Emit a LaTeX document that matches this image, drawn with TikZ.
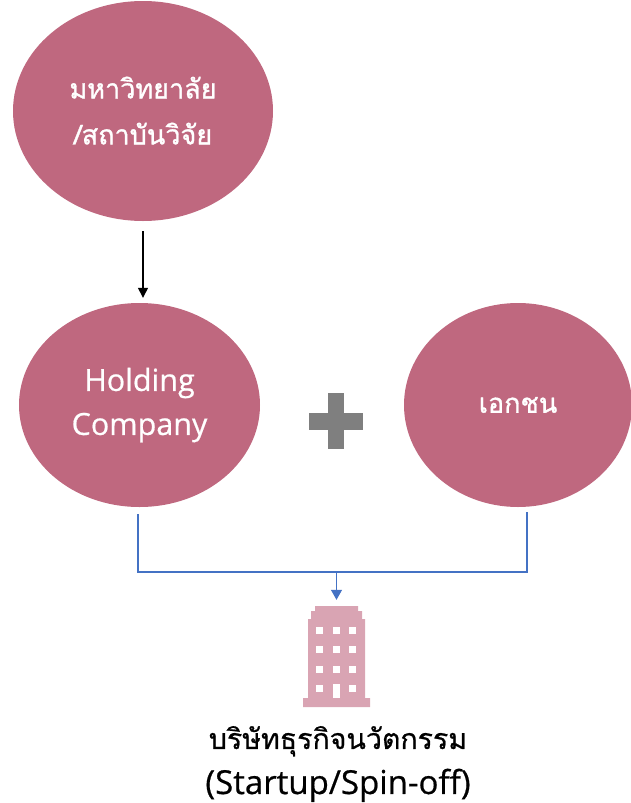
\documentclass[tikz,border=0pt]{standalone}
\usepackage{fontspec}
\usetikzlibrary{shapes.geometric,arrows.meta}
\newfontfamily\thaifont[Script=Thai,FakeBold=1.2]{Loma}
\newfontfamily\thaicap[Script=Thai,FakeBold=0.7]{Loma}
\newfontfamily\latfont[FakeBold=0.6]{Open Sans}
\definecolor{rose}{HTML}{BF687F}
\definecolor{pale}{HTML}{D9A4B3}
\definecolor{plusgrey}{HTML}{7F7F7F}
\definecolor{linkblue}{HTML}{4472C4}
\tikzset{
  blob/.style={ellipse,fill=rose,draw=none,inner sep=0pt,text=white,align=center},
  thaibig/.style={font=\thaifont\fontsize{27}{46}\selectfont},
  latbig/.style={font=\latfont\fontsize{30.5}{44}\selectfont},
  blacklink/.style={draw=black,line width=1.3pt,-{Triangle[length=10pt,width=10pt]}},
  bluelink/.style={draw=linkblue,line width=1.3pt},
  bluearrow/.style={bluelink,-{Triangle[length=10pt,width=11pt]}},
  caption/.style={text=black,align=center,inner sep=0pt,font=\fontsize{28.5}{45}\selectfont},
}
\begin{document}
\begin{tikzpicture}[x=1pt,y=-1pt]
\useasboundingbox (0,0) rectangle (631,803);
\clip (0,0) rectangle (631,803);
\node[blob,thaibig,minimum width=260pt,minimum height=220pt] (uni) at (143,111) {\raisebox{1pt}{มหาวิทยาลัย}\\\raisebox{1pt}{/สถาบันวิจัย}};
\node[blob,latbig,minimum width=241pt,minimum height=204pt] (hold) at (139.5,405) {\raisebox{2pt}{Holding}\\\raisebox{2pt}{Company}};
\node[blob,thaibig,minimum width=228pt,minimum height=204pt] (priv) at (518,405) {เอกชน};
\draw[blacklink,shorten <=10pt,shorten >=5pt] (uni.south) -- (uni.south |- hold.north);
% plus
\fill[plusgrey] (328,393) rectangle (344,449);
\fill[plusgrey] (309,413) rectangle (363,430);
% building
\node[minimum width=67pt,minimum height=101pt,inner sep=0pt] (bld) at (336.5,656.5) {};
\fill[pale] (303,707) -- (303,698) -- (308,698) -- (308,619) -- (311,619) -- (311,611) -- (315,611) -- (315,606)
  -- (358,606) -- (358,611) -- (362,611) -- (362,619) -- (365,619) -- (365,698) -- (370,698) -- (370,707) -- cycle;
\foreach \x in {319.5,336,352.7}{\foreach \y in {630,649,669}{
  \fill[white] (\x-3.5,\y-3.5) rectangle (\x+3.5,\y+3.5);}}
\foreach \x in {319.5,352.7}{\fill[white] (\x-3.5,684.5) rectangle (\x+3.5,691.5);}
\fill[white] (333,684) rectangle (340,698);
% connectors
\coordinate (bus) at (0,572);
\draw[bluelink] ([xshift=-1.5pt]hold.center |- 0,514) -- ([xshift=-1.5pt]hold.center |- bus) -- ([xshift=9pt]priv.center |- bus) -- ([xshift=9pt]priv.center |- 0,512);
\draw[bluearrow] (bld.north |- bus) -- ([yshift=6pt]bld.north);
\node[caption] (cap) at (338,764) {{\thaicap บริษัทธุรกิจนวัตกรรม}\\{\latfont\fontsize{33}{45}\selectfont (Startup/Spin-off)}};
\end{tikzpicture}
\end{document}
